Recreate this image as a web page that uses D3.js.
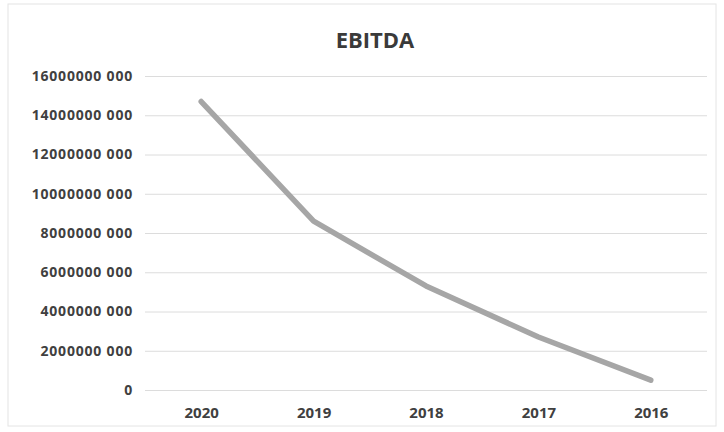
<!DOCTYPE html>
<html>
<head>
<meta charset="utf-8">
<script src="https://cdn.jsdelivr.net/npm/d3@7"></script>
<style>
  body { margin: 0; background: #fff; }
  svg { display: block; }
</style>
</head>
<body>
<svg width="724" height="432"></svg>
<script>
const years = ["2020", "2019", "2018", "2017", "2016"];
const ebitda = [14700000000, 8600000000, 5300000000, 2700000000, 500000000];
const yTicks = [0, 2000000000, 4000000000, 6000000000, 8000000000, 10000000000, 12000000000, 14000000000, 16000000000];

const svg = d3.select("svg"),
    margin = { top: 76, right: 17, bottom: 42, left: 145 },
    width = +svg.attr("width") - margin.left - margin.right,
    height = +svg.attr("height") - margin.top - margin.bottom;

// chart area frame
svg.append("rect")
    .attr("x", 8).attr("y", 4)
    .attr("width", 708).attr("height", 422)
    .attr("fill", "#fff")
    .attr("stroke", "#e4e4e4");

svg.append("text")
    .attr("x", 375)
    .attr("y", 48)
    .attr("text-anchor", "middle")
    .style("font", "bold 22px 'Open Sans', sans-serif")
    .attr("fill", "#3a3a3a")
    .text("EBITDA");

const g = svg.append("g").attr("transform", `translate(${margin.left},${margin.top})`);

const x = d3.scalePoint().domain(years).range([0, width]).padding(0.5);
const y = d3.scaleLinear().domain([0, 16000000000]).range([height, 0]);

const fmt = d => d === 0 ? "0" : Math.round(d / 1000) + " 000";

const yAxis = g.append("g")
    .call(d3.axisLeft(y).tickValues(yTicks).tickFormat(fmt).tickSize(-width).tickPadding(12));
yAxis.select(".domain").remove();
yAxis.selectAll(".tick line").attr("stroke", "#dcdcdc");
yAxis.selectAll(".tick text")
    .attr("fill", "#404040")
    .style("font", "bold 14px 'Open Sans', sans-serif")
    .style("letter-spacing", "0.8px");

const xAxis = g.append("g")
    .attr("transform", `translate(0,${height})`)
    .call(d3.axisBottom(x).tickSize(0).tickPadding(17));
xAxis.select(".domain").remove();
xAxis.selectAll(".tick text")
    .attr("fill", "#404040")
    .style("font", "bold 15px 'Open Sans', sans-serif");

const line = d3.line()
    .x((d, i) => x(years[i]))
    .y(d => y(d));

g.append("path")
    .datum(ebitda)
    .attr("fill", "none")
    .attr("stroke", "#a6a6a6")
    .attr("stroke-width", 5.5)
    .attr("stroke-linecap", "round")
    .attr("stroke-linejoin", "round")
    .attr("d", line);
</script>
</body>
</html>
